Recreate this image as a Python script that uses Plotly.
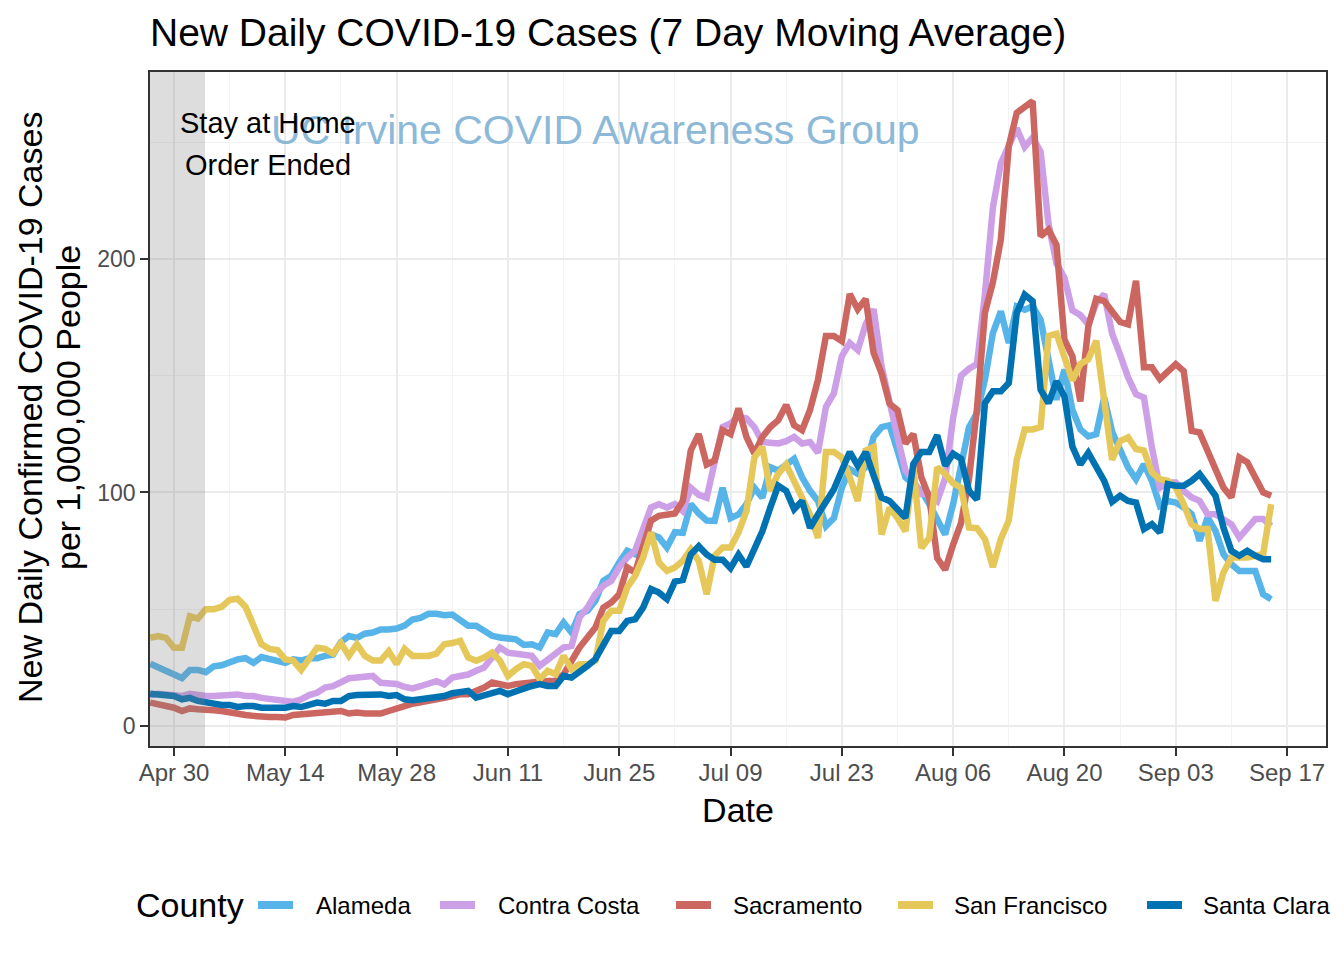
import pandas as pd
import plotly.graph_objects as go

start_date = "2020-04-27"
n_days = 142

alameda = [
    26.6, 25, 24, 22.5, 20.5, 24, 24, 23, 25.5, 26,
    27.5, 28.5, 29, 27, 29.5, 28.5, 28, 27, 28.5, 28,
    29, 29, 30, 30.5, 36, 38.5, 37.7, 39.5, 40, 41.3,
    41.3, 41.7, 43, 45.6, 46.3, 48, 48, 47.4, 47.7, 45.5,
    42.9, 42.9, 40.4, 38.6, 37.9, 37.6, 37.1, 34.7, 35, 33.6,
    40, 39.3, 44.3, 40, 47.9, 49.3, 53.6, 62.1, 64.3, 70,
    75, 73.6, 82.9, 82.1, 80.7, 76.4, 83, 82.7, 95, 91,
    88, 87.8, 102, 89, 90.6, 95, 102, 97.8, 110.8, 109.4,
    111.5, 114.4, 106.5, 100.7, 96.4, 85.6, 89, 102, 110, 108,
    110.8, 123.8, 128, 128.8, 118, 106.5, 103.6, 100.7, 95, 89,
    82, 95, 110, 128, 134, 148.3, 168.3, 177.6, 164, 179.7,
    178.3, 179.7, 174, 155.4, 139.7, 152.6, 135.4, 127, 124, 125,
    140.7, 126, 117.9, 110.7, 105.7, 112.1, 105, 94.3, 96.4, 95.7,
    93.6, 90.7, 79.3, 89.3, 83.6, 73.6, 69.3, 66.4, 66.4, 66.4,
    56.4, 54.3,
]

contra_costa = [
    13.2, 13.8, 13.5, 12.8, 12.8, 13.8, 13.2, 12.8, 12.8, 13,
    13.2, 13.5, 12.8, 12.8, 12, 11.4, 11.2, 10.7, 10.3, 11.4,
    13.2, 14.2, 16.4, 17, 18.5, 20.4, 20.7, 21, 21.4, 18.5,
    18.5, 18, 16.7, 16.1, 17, 17.8, 19.2, 17.8, 20.7, 21.4,
    22, 23.6, 25, 29.3, 33.6, 31.4, 31, 30.7, 30, 25.7,
    28.6, 30.7, 33.6, 34.3, 46.4, 50.7, 56.4, 60, 62.1, 67.9,
    72.1, 75, 83.6, 93.6, 95, 93.6, 95, 92, 102, 99,
    97.8, 112, 128, 129.5, 132.4, 131.7, 128, 121.6, 121.6, 121,
    122, 123.8, 121, 121.6, 117, 136.7, 142.5, 158.4, 164, 161,
    172, 178.5, 154, 138, 123.8, 109.4, 105, 99.3, 99.3, 96.4,
    106, 132, 150, 153, 155, 185, 222, 241, 248, 256,
    248, 252, 246, 215, 198, 192, 178, 176, 172, 181,
    185, 168, 159, 149.3, 142.1, 140.7, 119.3, 102.1, 104.3, 104.3,
    100.7, 97.9, 96.4, 90.7, 90.7, 88.6, 86.4, 80.7, 84.3, 88.6,
    88.6, 85.7,
]

sacramento = [
    10, 9.3, 8.5, 7.8, 6.4, 7.5, 7.1, 7.1, 6.7, 6.4,
    5.7, 5.3, 4.7, 4.3, 3.8, 3.8, 3.8, 3.6, 4.7, 5,
    5.3, 6.1, 6.1, 6.7, 6.4, 5.3, 5.7, 5.3, 5.3, 5.3,
    6.4, 7.1, 8.5, 9.5, 10, 10.7, 11.4, 12, 12.8, 13.6,
    13.6, 15, 16.4, 18.6, 17.9, 17.1, 17.9, 18.6, 18.6, 19,
    19.3, 19.3, 22.1, 27.9, 33.6, 37.9, 42.1, 50.7, 52.9, 56.4,
    67.9, 65.7, 76.4, 87.9, 90, 90.7, 91, 96.4, 118, 125,
    112, 113.7, 126.7, 125, 136, 123.8, 116.6, 123.8, 128, 131,
    137.5, 128.8, 126.7, 135.3, 148.3, 167, 167, 164.8, 185, 178.5,
    182.9, 159.8, 151, 138, 135.3, 121, 125, 106.5, 97.8, 71.9,
    66.9, 77.7, 87, 106, 136, 177, 190, 208.3, 248.3, 262.6,
    264.7, 267.6, 209.7, 212.6, 206, 165.4, 158.3, 139, 171, 183,
    182, 178, 173, 172, 190.7, 153.6, 153.6, 148.6, 152, 155,
    152, 126.4, 125.7, 117.9, 109.3, 102.1, 97.9, 115, 112.9, 106.4,
    100, 98.6,
]

san_francisco = [
    37.7, 38.5, 37.7, 33.5, 33.5, 47, 46, 50, 50, 51,
    54, 54.5, 51, 43.5, 35, 33, 32.5, 28.5, 28, 24,
    28.5, 33.5, 33, 31, 35.5, 30, 35, 30, 28, 28,
    32, 26.5, 33, 30, 30, 30, 31, 35, 35.5, 36.4,
    29.3, 27.9, 29.3, 31.4, 27.9, 21.4, 24.3, 26.4, 25.7, 20,
    23.6, 22.1, 30, 24.3, 26.4, 26.4, 27.9, 45, 49.3, 49.3,
    59.3, 64.3, 72.1, 82.9, 70, 66.4, 67.9, 70.7, 75.7, 70.7,
    56.4, 72.9, 76.4, 76.4, 82.9, 92, 115, 119.5, 100.7, 108,
    112, 105, 97.8, 90.6, 80.5, 117.3, 117.3, 115, 106.5, 96.4,
    118, 119.5, 82, 93.5, 89, 83.4, 110.8, 76.2, 80.5, 110.8,
    108, 104, 102, 85, 84.7, 80, 68, 80, 88, 114,
    127, 127, 128, 167, 168, 158, 148, 155, 157, 165,
    141, 114, 122, 123.6, 118.6, 117.9, 108.6, 105.7, 105, 102.1,
    95, 86.4, 84.3, 84.3, 53.6, 65.7, 72.1, 72.1, 72.1, 72.9,
    73.6, 95,
]

santa_clara = [
    13.8, 13.5, 13.2, 12.8, 11.4, 12, 10.7, 10, 9.5, 9,
    9, 8.1, 8.5, 8.5, 7.8, 8.1, 7.8, 7.8, 8.5, 8.1,
    9.3, 10, 9.5, 10.7, 10.7, 12.8, 13.2, 13.5, 13.2, 13.5,
    12.8, 13.2, 11.4, 11, 11.4, 12, 12, 12.8, 14, 14.3,
    15, 12.1, 13.3, 14.3, 15, 13.6, 15, 15.7, 17.1, 17.9,
    17.1, 17.1, 21.4, 20.7, 22.9, 25.7, 28.6, 35, 40.7, 40.7,
    45, 45.7, 50.7, 58.6, 57.1, 54.3, 61.8, 62.5, 73.4, 77,
    73.4, 71.2, 71.2, 67.6, 73.4, 68.3, 76, 83.4, 93.5, 102.9,
    100.7, 92.8, 96.4, 84.9, 90.6, 96.4, 101.4, 109.4, 117.3, 111.5,
    117.3, 107.2, 97.8, 96.4, 92.8, 89.2, 112.2, 117.3, 117.3, 124.5,
    111.5, 116.6, 114.4, 100.7, 97, 138.3, 143.3, 143.3, 146.9, 176.9,
    184.7, 181.9, 144, 138.3, 147.6, 141.1, 119.7, 112, 117, 111,
    105, 96, 98.6, 96.4, 95.7, 84.3, 86.4, 82.9, 103.6, 102.9,
    102.9, 105, 107.9, 103.3, 98.6, 85, 75, 72.9, 75, 72.9,
    71.4, 71.4,
]

counties = ["Alameda", "Contra Costa", "Sacramento", "San Francisco", "Santa Clara"]
series = [alameda, contra_costa, sacramento, san_francisco, santa_clara]
colors = ["#56B4E9", "#CC9FE6", "#CC6660", "#E6C85A", "#0072B2"]

x_tick_dates = ["2020-04-30", "2020-05-14", "2020-05-28", "2020-06-11", "2020-06-25",
                "2020-07-09", "2020-07-23", "2020-08-06", "2020-08-20", "2020-09-03",
                "2020-09-17"]
x_tick_labels = ["Apr 30", "May 14", "May 28", "Jun 11", "Jun 25", "Jul 09",
                 "Jul 23", "Aug 06", "Aug 20", "Sep 03", "Sep 17"]
y_tick_vals = [0, 100, 200]

dates = pd.date_range(start_date, periods=n_days, freq="D")

FONT = "Liberation Sans, Arial, Helvetica, sans-serif"
W, H = 1344, 960
ML, MR, MT, MB = 150, 18, 72, 214
PW, PH = W - ML - MR, H - MT - MB


def px_x(px):
    return (px - ML) / PW


def px_y(py):
    return (H - MB - py) / PH


fig = go.Figure()
for name, vals, col in zip(counties, series, colors):
    fig.add_trace(go.Scatter(
        x=dates, y=vals, mode="lines", name=name,
        line=dict(color=col, width=6.5),
        showlegend=False,
    ))

x_left = pd.Timestamp("2020-04-30") - pd.Timedelta(days=3.02)
x_right = pd.Timestamp("2020-04-30") + pd.Timedelta(days=144.9)
shade_end = pd.Timestamp("2020-04-30") + pd.Timedelta(days=3.9)

fig.add_shape(type="rect", xref="x", yref="paper",
              x0=x_left, x1=shade_end, y0=0, y1=1,
              fillcolor="rgba(128,128,128,0.27)", line=dict(width=0),
              layer="above")

fig.add_annotation(text="UC Irvine COVID Awareness Group",
                   xref="paper", yref="paper", x=px_x(595), y=px_y(130),
                   xanchor="center", yanchor="middle", showarrow=False,
                   font=dict(family=FONT, size=41, color="#8DB9D8"))
fig.add_annotation(text="Stay at Home",
                   xref="paper", yref="paper", x=px_x(268), y=px_y(123),
                   xanchor="center", yanchor="middle", showarrow=False,
                   font=dict(family=FONT, size=29, color="black"))
fig.add_annotation(text="Order Ended",
                   xref="paper", yref="paper", x=px_x(268), y=px_y(165),
                   xanchor="center", yanchor="middle", showarrow=False,
                   font=dict(family=FONT, size=29, color="black"))

# y-axis title (two lines, ggplot spacing)
fig.add_annotation(text="New Daily Confirmed COVID-19 Cases",
                   xref="paper", yref="paper", x=px_x(30), y=px_y(408),
                   xanchor="center", yanchor="middle", showarrow=False,
                   textangle=-90,
                   font=dict(family=FONT, size=34, color="black"))
fig.add_annotation(text="per 1,000,000 People",
                   xref="paper", yref="paper", x=px_x(68), y=px_y(408),
                   xanchor="center", yanchor="middle", showarrow=False,
                   textangle=-90,
                   font=dict(family=FONT, size=34, color="black"))

# legend (drawn below the plot, ggplot style)
legend_y = px_y(905)
fig.add_annotation(text="County", xref="paper", yref="paper",
                   x=px_x(134), y=legend_y, xanchor="left", yanchor="middle",
                   showarrow=False, font=dict(family=FONT, size=34, color="black"))
swatch_left = [258, 440, 676, 898, 1147]
label_left = [314, 496, 731, 952, 1201]
for name, col, sx, lx in zip(counties, colors, swatch_left, label_left):
    fig.add_shape(type="line", xref="paper", yref="paper",
                  x0=px_x(sx), x1=px_x(sx + 35), y0=legend_y, y1=legend_y,
                  line=dict(color=col, width=8))
    fig.add_annotation(text=name, xref="paper", yref="paper",
                       x=px_x(lx), y=legend_y, xanchor="left", yanchor="middle",
                       showarrow=False,
                       font=dict(family=FONT, size=24, color="black"))

fig.update_layout(
    width=W, height=H,
    margin=dict(l=ML, r=MR, t=MT, b=MB),
    paper_bgcolor="white", plot_bgcolor="white",
    font=dict(family=FONT, color="black"),
    title=dict(text="New Daily COVID-19 Cases (7 Day Moving Average)",
               x=150 / W, xanchor="left", xref="container",
               y=1 - 32 / H, yanchor="middle", yref="container",
               font=dict(family=FONT, size=39, color="black")),
    showlegend=False,
)

fig.update_xaxes(
    range=[x_left, x_right],
    tickvals=pd.to_datetime(x_tick_dates), ticktext=x_tick_labels,
    ticks="outside", ticklen=8, tickwidth=2, tickcolor="#333333",
    ticklabelstandoff=-4,
    tickfont=dict(family=FONT, size=24, color="#4D4D4D"),
    showgrid=True, gridcolor="#EBEBEB", gridwidth=2,
    minor=dict(dtick=7 * 86400000, tick0="2020-04-23", showgrid=True,
               gridcolor="#F2F2F2", gridwidth=1.2, ticks=""),
    showline=True, mirror=True, linecolor="#333333", linewidth=1.5,
    title=dict(text="Date", font=dict(family=FONT, size=34, color="black"),
               standoff=14),
    zeroline=False,
)
fig.update_yaxes(
    range=[-8.6, 280.1],
    tickvals=y_tick_vals,
    ticks="outside", ticklen=8, tickwidth=2, tickcolor="#333333",
    tickfont=dict(family=FONT, size=23, color="#4D4D4D"),
    showgrid=True, gridcolor="#EBEBEB", gridwidth=2,
    minor=dict(dtick=50, tick0=0, showgrid=True,
               gridcolor="#F2F2F2", gridwidth=1.2, ticks=""),
    showline=True, mirror=True, linecolor="#333333", linewidth=1.5,
    zeroline=False,
)

fig.write_html("out.html",
               config={"displayModeBar": False},
               post_script="document.body.style.margin='0px';")
